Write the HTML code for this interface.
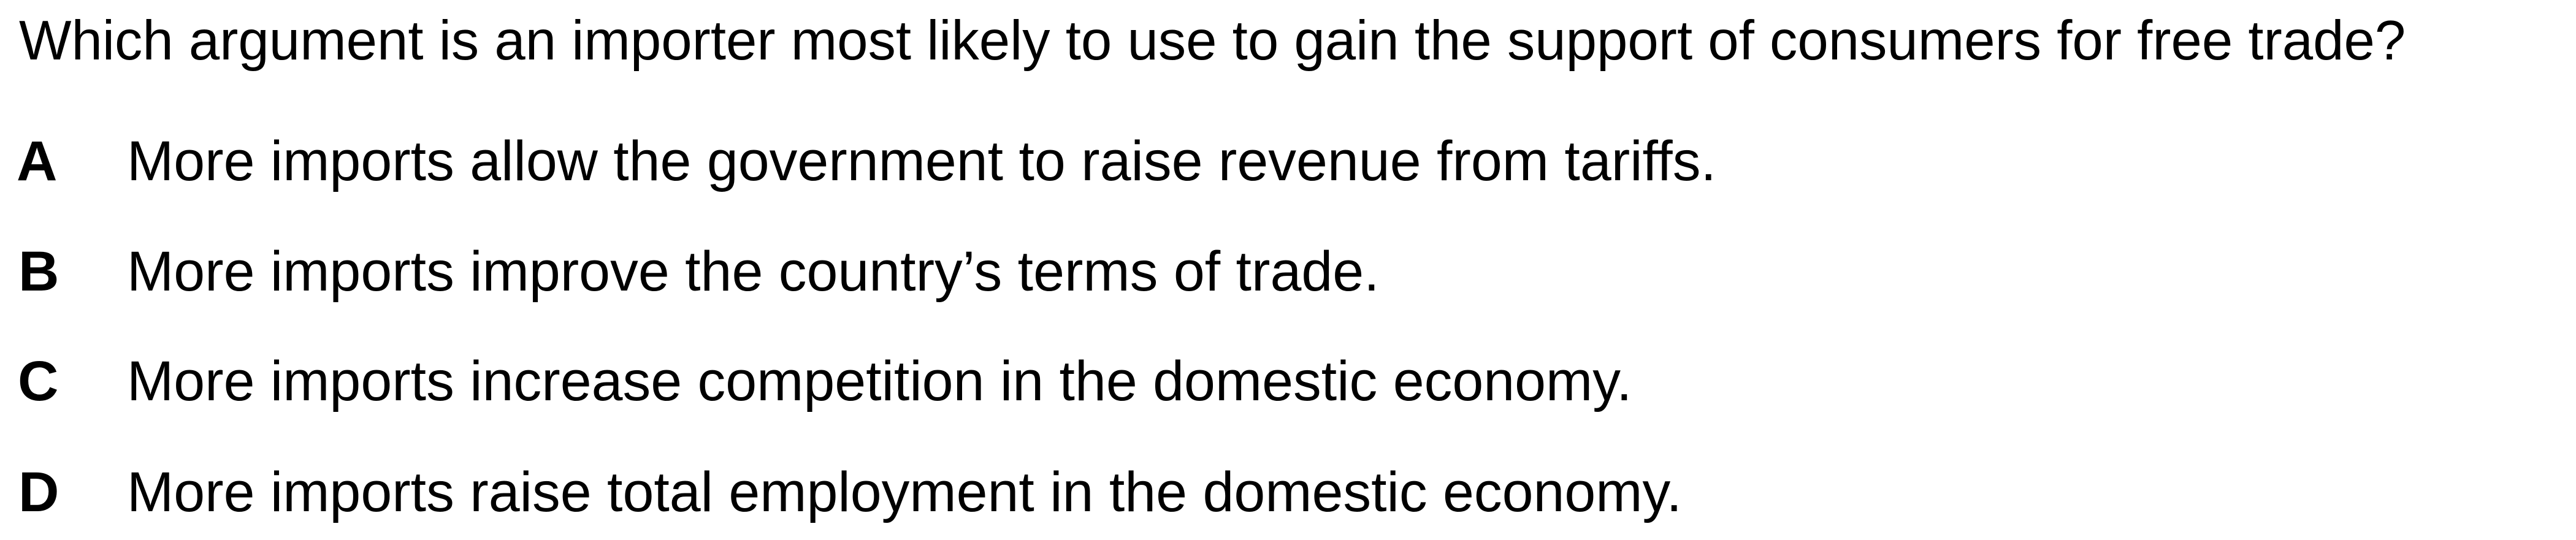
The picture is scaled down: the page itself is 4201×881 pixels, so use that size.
<!DOCTYPE html>
<html><head><meta charset="utf-8"><style>
html,body{margin:0;padding:0;background:#fff;}
body{width:4201px;height:881px;position:relative;overflow:hidden;font-family:"Liberation Sans",Arial,sans-serif;color:#000;}
.t{position:absolute;font-size:92px;line-height:92px;white-space:nowrap;}
.k{position:absolute;font-size:92px;line-height:92px;font-weight:bold;}
</style></head><body>
<div class="t" style="left:31px;top:21px;font-size:90.6px;">Which argument is an importer most likely to use to gain the support of consumers for free trade?</div>
<div>
<div class="k" style="left:27px;top:217px">A</div>
<div class="t" style="left:207px;top:217px;font-size:91.5px">More imports allow the government to raise revenue from tariffs.</div>
</div>
<div>
<div class="k" style="left:30px;top:397px">B</div>
<div class="t" style="left:207px;top:397px;font-size:91.5px">More imports improve the country’s terms of trade.</div>
</div>
<div>
<div class="k" style="left:29px;top:576px">C</div>
<div class="t" style="left:207px;top:576px;font-size:91.5px">More imports increase competition in the domestic economy.</div>
</div>
<div>
<div class="k" style="left:30px;top:757px">D</div>
<div class="t" style="left:207px;top:757px;font-size:91.5px">More imports raise total employment in the domestic economy.</div>
</div>
</body></html>
